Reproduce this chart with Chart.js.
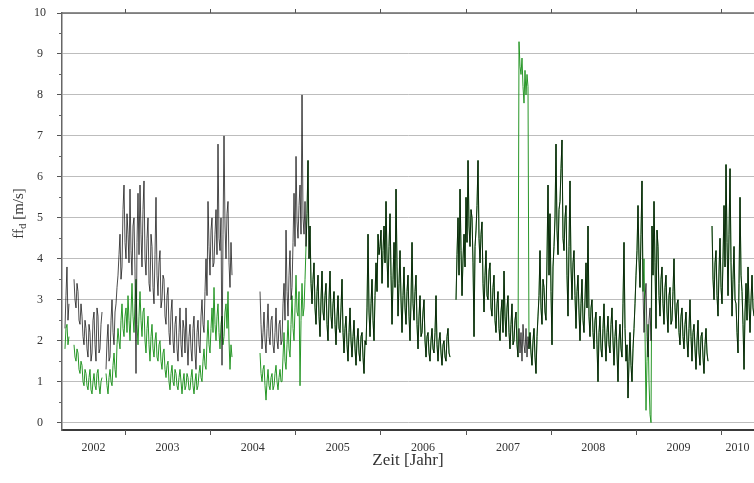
<!DOCTYPE html>
<html><head><meta charset="utf-8">
<script src="https://cdn.jsdelivr.net/npm/chart.js@4.4.1/dist/chart.umd.min.js"></script>
<style>html,body{margin:0;padding:0;background:#fff}canvas{display:block}</style>
</head><body>
<canvas id="c" width="754" height="483" style="width:754px;height:483px"></canvas>
<script>
// ---------------- data (daily wind speed ff_d, ~4.3-day samples) ----------------
const yearLabels = [2002, 2003, 2004, 2005, 2006, 2007, 2008, 2009, 2010];
const yTickValues = [0, 1, 2, 3, 4, 5, 6, 7, 8, 9, 10];
const xMin = 2002.26;
const xMax = 2010.388;
const sampleStep = 0.011745; // years between samples

// segment start dates (decimal years)
const seg1Start = 2002.295;
const seg2Start = 2002.401;
const seg3Start = 2002.777;
const seg4Start = 2004.586;
const seg5Start = 2006.888;
const seg6Start = 2009.895;

// 2002 - 2004: the two series differ
const black1 = [2.3, 3.1, 3.8, 2.5, 2.9];
const green1 = [1.8, 2.3, 2.4, 1.9, 2.1];
const black2 = [3.5, 3.0, 2.8, 3.4, 3.2, 2.5, 2.4, 2.9, 2.6, 2.1, 1.9, 2.5, 2.3, 1.8, 1.6, 2.4,
  2.2, 1.5, 1.7, 2.5, 2.7, 1.9, 1.5, 2.8, 2.6, 1.7, 1.8, 2.4, 2.7];
const green2 = [1.9, 1.6, 1.5, 1.8, 1.7, 1.3, 1.2, 1.5, 1.4, 1.0, 0.9, 1.3, 1.2, 0.9, 0.8, 1.1,
  1.3, 0.8, 0.7, 1.0, 1.2, 0.9, 0.8, 1.2, 1.3, 0.9, 0.7, 1.0, 1.1];
const black3 = [1.3, 2.0, 2.4, 1.5, 1.6, 2.5, 3.0, 2.2, 1.9, 2.7, 2.9, 3.3, 3.6, 4.1, 4.6, 3.5,
  3.8, 5.2, 5.8, 4.4, 4.0, 5.1, 4.6, 3.9, 5.7, 4.2, 3.6, 4.8, 5.0, 3.7, 1.2, 4.4,
  5.6, 4.1, 5.8, 4.6, 3.8, 5.2, 5.9, 4.0, 3.6, 4.5, 5.0, 3.4, 3.2, 4.6, 4.3, 3.3,
  2.9, 4.1, 5.5, 3.6, 3.1, 3.9, 4.2, 2.8, 3.0, 3.6, 3.5, 2.6, 2.4, 3.1, 3.3, 2.2,
  1.9, 2.7, 3.0, 2.0, 1.7, 2.4, 2.6, 1.8, 1.5, 2.2, 2.8, 1.9, 1.6, 2.5, 2.3, 1.7,
  2.8, 2.0, 1.4, 2.1, 2.4, 1.8, 1.5, 2.3, 2.6, 1.7, 1.3, 2.2, 2.5, 1.9, 1.7, 2.6,
  3.0, 2.4, 2.2, 3.2, 4.0, 3.1, 5.4, 4.3, 3.6, 4.7, 5.0, 3.8, 3.9, 4.6, 5.2, 4.1,
  6.8, 4.5, 4.2, 5.0, 1.4, 4.6, 7.0, 4.8, 4.0, 5.1, 5.4, 3.9, 3.3, 4.4, 3.6];
const green3 = [1.2, 0.9, 0.7, 1.1, 1.3, 1.0, 0.9, 1.4, 1.7, 1.3, 1.1, 1.9, 2.3, 2.0, 1.8, 2.5,
  2.9, 2.3, 2.1, 2.6, 2.8, 2.2, 3.1, 2.5, 2.0, 2.7, 3.4, 2.6, 2.2, 2.9, 3.5, 2.4,
  1.9, 2.6, 3.2, 2.5, 2.1, 2.7, 2.8, 2.0, 1.7, 2.3, 2.6, 1.9, 1.5, 2.1, 2.4, 1.8,
  1.6, 2.0, 2.2, 1.6, 1.5, 1.9, 2.0, 1.5, 1.3, 1.7, 1.8, 1.3, 1.1, 1.4, 1.5, 1.0,
  0.8, 1.2, 1.4, 1.0, 0.9, 1.3, 1.2, 0.9, 0.8, 1.1, 1.3, 1.0, 0.7, 1.0, 1.2, 0.8,
  0.9, 1.2, 1.1, 0.8, 0.8, 1.1, 1.3, 0.9, 0.7, 1.0, 1.2, 0.8, 0.9, 1.2, 1.4, 1.1,
  1.0, 1.5, 1.8, 1.4, 1.3, 2.0, 2.5, 1.9, 1.7, 2.3, 2.8, 2.2, 3.3, 2.4, 2.0, 2.6,
  2.9, 2.2, 1.8, 2.4, 2.6, 1.9, 2.1, 2.7, 2.9, 2.3, 3.2, 2.0, 1.3, 1.9, 1.6];
const black4Early = [3.2, 2.4, 1.8, 2.2, 2.7, 2.0, 1.7, 2.3, 2.9, 2.1, 1.9, 2.5, 2.6, 1.9, 1.7, 2.2,
  2.8, 2.0, 1.8, 2.4, 2.5, 1.9, 2.0, 2.9, 3.4, 2.5, 4.7, 3.2, 2.6, 3.6, 4.2, 3.0,
  3.3, 4.4, 5.6, 4.3, 6.5, 4.9, 4.5, 5.3, 5.8, 4.6, 8.0, 5.0, 4.6, 5.4];
const green4Early = [1.7, 1.2, 1.0, 1.3, 1.4, 0.9, 0.55, 1.0, 1.3, 0.9, 0.8, 1.1, 1.2, 0.8, 0.9, 1.2,
  1.4, 1.0, 0.8, 1.1, 1.3, 1.0, 1.0, 1.6, 2.2, 1.5, 1.3, 1.9, 2.5, 1.8, 1.6, 2.4,
  3.1, 2.3, 2.0, 2.8, 3.6, 2.7, 2.6, 3.2, 0.9, 2.5, 3.4, 2.6, 2.8, 3.5];

// from late 2004 on both series coincide (values shared)
const shared4 = [4.3, 5.1, 6.4, 4.0, 4.8, 3.4, 2.9, 3.5, 3.9, 2.8, 2.4, 3.2, 3.6, 2.6, 2.1, 3.0,
  3.7, 2.7, 2.5, 3.1, 3.4, 2.4, 2.0, 3.0, 3.7, 2.6, 2.3, 2.9, 3.2, 2.4, 1.9, 2.6,
  3.1, 2.3, 2.2, 2.8, 3.5, 2.2, 1.7, 2.3, 2.6, 1.9, 1.5, 2.2, 2.8, 2.0, 1.6, 2.1,
  2.5, 1.8, 1.4, 2.0, 2.3, 1.7, 1.5, 2.1, 2.2, 1.6, 1.2, 2.0, 1.9, 2.8, 4.6, 2.7,
  2.1, 2.9, 3.5, 2.5, 2.0, 3.1, 3.9, 3.2, 4.6, 4.1, 4.3, 4.7, 3.4, 4.2, 4.8, 3.9,
  5.4, 4.0, 3.3, 4.3, 5.1, 3.6, 2.4, 3.5, 4.4, 3.3, 5.7, 3.8, 2.6, 3.4, 4.2, 3.0,
  2.2, 3.1, 3.8, 2.8, 2.4, 3.2, 3.6, 2.6, 2.0, 3.0, 4.4, 2.9, 2.5, 3.2, 3.6, 2.4,
  1.8, 2.6, 3.1, 2.1, 2.2, 2.7, 3.0, 2.0, 1.6, 2.1, 2.2, 1.7, 1.5, 2.0, 2.3, 1.8,
  1.7, 2.2, 3.1, 1.9, 1.5, 2.0, 2.2, 1.7, 1.4, 1.9, 2.0, 1.6, 1.5, 2.1, 2.3, 1.7,
  1.6];
const shared5a = [3.0, 4.1, 5.0, 3.6, 5.7, 4.2, 3.1, 4.0, 4.6, 3.8, 5.5, 4.4, 6.4, 4.8, 4.3, 5.2,
  5.0, 3.9, 2.1, 4.3, 4.7, 5.3, 6.4, 4.5, 3.9, 4.6, 4.9, 3.4, 2.7, 3.6, 4.2, 3.1,
  3.0, 3.7, 3.9, 2.8, 2.6, 3.3, 3.6, 2.5, 2.2, 2.9, 3.2, 2.3, 2.0, 2.7, 3.0, 2.2,
  3.7, 2.6, 2.1, 2.8, 3.1, 2.2, 1.8, 2.4, 2.9, 1.9, 2.0, 2.5, 2.7, 1.9, 1.6];
const black2007 = [2.3, 1.7, 2.2, 1.5, 2.4, 1.9, 1.7, 2.3, 1.6, 2.1];
const green2007 = [9.3, 8.7, 8.5, 8.9, 8.2, 7.8, 8.6, 8.0, 8.5, 8.2];
const shared5b = [1.8, 2.2, 1.7, 1.4, 2.0, 2.3, 1.6, 1.2, 2.1, 2.6, 3.1, 4.2, 2.8, 2.4, 3.5, 3.3,
  2.7, 2.5, 4.0, 5.8, 3.6, 5.1, 3.2, 1.9, 3.8, 4.3, 5.0, 6.8, 4.7, 4.1, 5.2, 5.4,
  6.2, 6.9, 4.5, 4.2, 5.0, 5.3, 3.6, 2.6, 4.3, 5.9, 3.8, 3.0, 3.9, 4.2, 3.1, 2.3,
  3.2, 3.6, 2.7, 2.0, 2.9, 3.5, 2.5, 2.2, 3.0, 3.9, 2.8, 4.8, 2.6, 2.1, 2.8, 3.0,
  2.2, 1.8, 2.5, 2.7, 1.9, 1.0, 2.2, 2.6, 1.8, 1.6, 2.3, 2.9, 2.0, 1.5, 2.2, 2.6,
  1.9, 1.7, 2.4, 2.8, 2.0, 1.4, 2.1, 2.5, 1.7, 1.0, 2.0, 2.4, 1.8, 1.6, 2.9, 4.4,
  2.3, 1.5, 1.9, 0.6, 1.5, 2.2, 1.4, 1.0, 1.8, 2.3, 2.9, 3.6, 4.2, 5.3, 4.0, 3.3,
  4.6, 5.9, 3.2];
const black2008 = [2.2, 3.0, 3.4, 2.1, 1.6, 2.5, 2.8, 2.0];
const green2008 = [4.0, 2.2, 0.3, 1.5, 2.4, 1.0, 0.2, 0.0];
const shared5c = [4.8, 3.6, 5.4, 3.9, 2.3, 4.7, 4.3, 3.1, 2.6, 3.5, 3.8, 2.9, 2.4, 3.3, 3.6, 2.7,
  2.2, 3.1, 3.3, 2.4, 2.5, 3.2, 4.0, 2.8, 2.3, 2.9, 3.0, 2.2, 1.9, 2.6, 2.8, 2.1,
  1.8, 2.4, 2.7, 2.0, 1.6, 2.3, 3.0, 2.1, 1.5, 2.2, 2.4, 1.8, 1.3, 2.0, 2.5, 1.7,
  1.4, 2.1, 2.2, 1.6, 1.2, 1.9, 2.3, 1.7, 1.5];
const shared6 = [4.8, 3.5, 3.0, 3.9, 4.2, 3.1, 2.6, 3.7, 4.5, 3.3, 2.9, 4.0, 5.3, 3.8, 6.3, 4.4,
  3.1, 4.6, 6.2, 3.9, 2.6, 3.5, 4.3, 3.0, 2.9, 2.2, 1.7, 3.4, 5.5, 3.6, 3.2, 2.4,
  1.3, 2.7, 3.4, 2.5, 3.8, 2.9, 2.2, 3.0, 3.6, 2.8, 2.6];

// ---------------- build series ----------------
function buildSeries(segments) {
  const out = [];
  segments.forEach(([start, vals], k) => {
    if (k > 0) out.push({ x: start - sampleStep / 2, y: null });
    vals.forEach((v, i) => out.push({ x: start + i * sampleStep, y: v }));
  });
  return out;
}
const blackSeries = buildSeries([
  [seg1Start, black1], [seg2Start, black2], [seg3Start, black3],
  [seg4Start, black4Early.concat(shared4)],
  [seg5Start, shared5a.concat(black2007, shared5b, black2008, shared5c)],
  [seg6Start, shared6]
]);
const greenSeries = buildSeries([
  [seg1Start, green1], [seg2Start, green2], [seg3Start, green3],
  [seg4Start, green4Early.concat(shared4)],
  [seg5Start, shared5a.concat(green2007, shared5b, green2008, shared5c)],
  [seg6Start, shared6]
]);

const serif = 'Liberation Serif, Times New Roman, serif';

const framePlugin = {
  id: 'frame',
  afterDraw(chart) {
    const { ctx, chartArea: a, scales } = chart;
    const xs = scales.x, ys = scales.y;
    ctx.save();
    ctx.strokeStyle = '#6a6a6a'; ctx.lineWidth = 1.5;
    ctx.beginPath(); ctx.moveTo(a.left, a.top); ctx.lineTo(a.right, a.top); ctx.stroke();
    ctx.strokeStyle = '#666'; ctx.lineWidth = 1;
    for (let i = 0; i < yTickValues.length - 1; i++) {
      const y = Math.round(ys.getPixelForValue((yTickValues[i] + yTickValues[i + 1]) / 2)) + 0.5;
      ctx.beginPath(); ctx.moveTo(a.left - 3, y); ctx.lineTo(a.left, y); ctx.stroke();
    }
    ctx.strokeStyle = '#555';
    yearLabels.forEach(yr => {
      if (yr <= xMin || yr >= xMax) return;
      const x = Math.round(xs.getPixelForValue(yr)) + 0.5;
      ctx.beginPath(); ctx.moveTo(x, a.bottom); ctx.lineTo(x, a.bottom + 5); ctx.stroke();
      ctx.beginPath(); ctx.moveTo(x, a.top - 4); ctx.lineTo(x, a.top); ctx.stroke();
    });
    ctx.translate(23, 213.5);
    ctx.rotate(-Math.PI / 2);
    ctx.fillStyle = '#333';
    ctx.textBaseline = 'alphabetic';
    ctx.textAlign = 'left';
    const big = '15px ' + serif, small = '11px ' + serif;
    ctx.font = big; const w1 = ctx.measureText('ff').width;
    ctx.font = small; const w2 = ctx.measureText('d').width;
    ctx.font = big; const w3 = ctx.measureText(' [m/s]').width;
    const x0 = -(w1 + w2 + w3) / 2;
    ctx.font = big; ctx.fillText('ff', x0, 0);
    ctx.font = small; ctx.fillText('d', x0 + w1, 3);
    ctx.font = big; ctx.fillText(' [m/s]', x0 + w1 + w2, 0);
    ctx.restore();
  }
};

new Chart(document.getElementById('c'), {
  type: 'line',
  data: {
    datasets: [
      { label: 'ff_d Reihe 1', data: blackSeries, borderColor: 'rgba(0,0,0,0.7)', borderWidth: 1, order: 0 },
      { label: 'ff_d Reihe 2', data: greenSeries, borderColor: 'rgb(38,150,38)', borderWidth: 1, order: 1 }
    ]
  },
  options: {
    responsive: false,
    animation: false,
    devicePixelRatio: 1,
    spanGaps: false,
    layout: { padding: { top: 13, left: 0, right: 0, bottom: 0 } },
    elements: { point: { radius: 0 }, line: { tension: 0 } },
    plugins: { legend: { display: false }, tooltip: { enabled: false } },
    scales: {
      x: {
        type: 'linear', min: xMin, max: xMax,
        afterBuildTicks: s => {
          s.ticks = yearLabels.map(yr => ({ value: (Math.max(yr, xMin) + Math.min(yr + 1, xMax)) / 2 }));
        },
        ticks: {
          autoSkip: false, maxRotation: 0, padding: 11, color: '#333',
          font: { family: serif, size: 12 },
          callback: (v, i) => String(yearLabels[i])
        },
        grid: { display: false, drawTicks: false },
        border: { display: true, color: '#3a3a3a', width: 2 },
        title: { display: true, text: 'Zeit [Jahr]', color: '#333', font: { family: serif, size: 17 }, padding: { top: 0, bottom: 12 } },
        afterFit: s => { s.height = 53; s.paddingLeft = 0; s.paddingRight = 0; }
      },
      y: {
        type: 'linear', min: -0.18, max: 10,
        afterBuildTicks: s => { s.ticks = yTickValues.map(v => ({ value: v })); },
        ticks: { color: '#333', padding: 11, crossAlign: 'center', font: { family: serif, size: 12 } },
        grid: { color: '#bdbdbd', lineWidth: 1, tickLength: 5, tickColor: '#555' },
        border: { display: true, color: '#666', width: 1.5 },
        afterFit: s => { s.width = 62; s.paddingTop = 0; s.paddingBottom = 0; }
      }
    }
  },
  plugins: [framePlugin]
});
</script>
</body></html>
